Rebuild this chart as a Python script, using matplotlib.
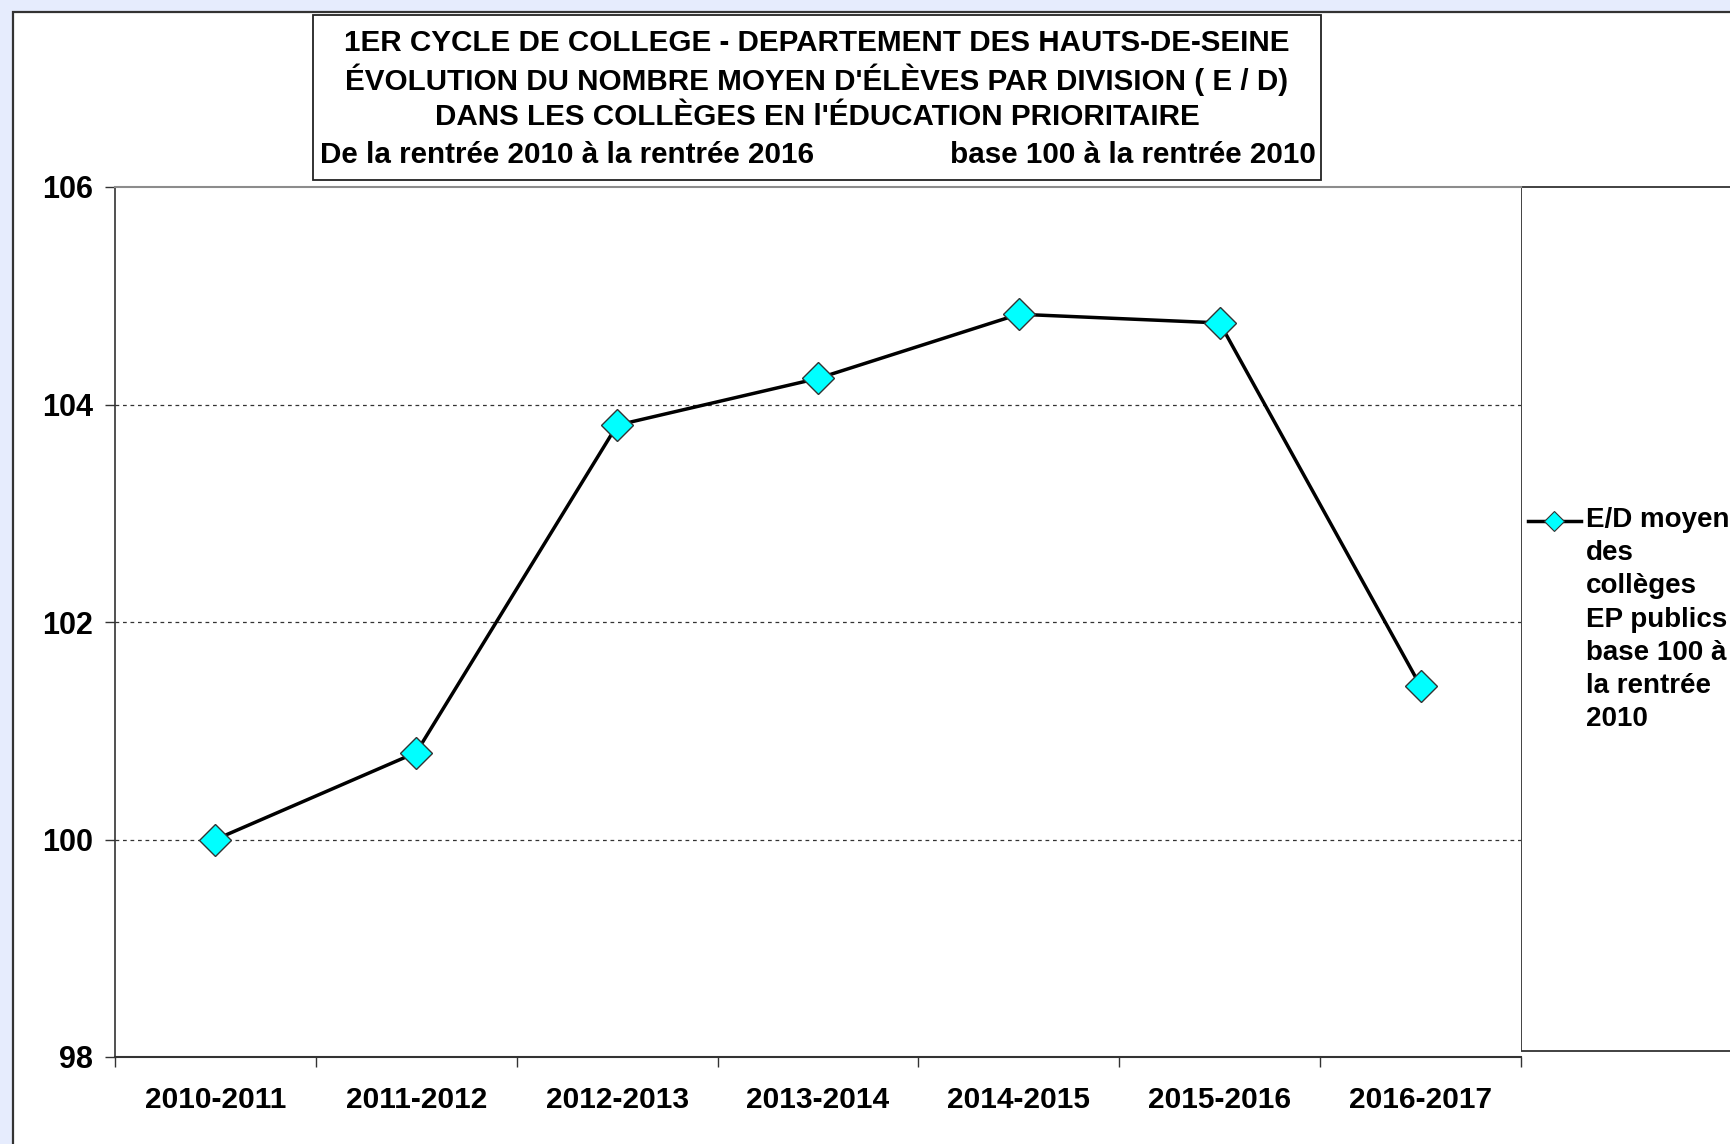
import matplotlib

matplotlib.use("Agg")
import matplotlib.pyplot as plt  # noqa: E402
from matplotlib.patches import Rectangle  # noqa: E402
from matplotlib.lines import Line2D  # noqa: E402

# Data
years = ["2010-2011", "2011-2012", "2012-2013", "2013-2014",
         "2014-2015", "2015-2016", "2016-2017"]
ed_index = [100.0, 100.8, 103.81, 104.24, 104.83, 104.75, 101.41]
y_ticks = [98, 100, 102, 104, 106]

title_lines = [
    "1ER CYCLE DE COLLEGE - DEPARTEMENT DES HAUTS-DE-SEINE",
    "ÉVOLUTION DU NOMBRE MOYEN D'ÉLÈVES PAR DIVISION ( E / D)",
    "DANS LES COLLÈGES EN l'ÉDUCATION PRIORITAIRE",
]
subtitle_left = "De la rentrée 2010 à la rentrée 2016"
subtitle_right = "base 100 à la rentrée 2010"
legend_label = "E/D moyen\ndes\ncollèges\nEP publics\nbase 100 à\nla rentrée\n2010"

W, H = 1731, 1144
plt.rcParams["font.family"] = ["Liberation Sans", "DejaVu Sans"]
plt.rcParams["font.weight"] = "bold"


def fx(px):
    return px / W


def fy(py):
    return 1 - py / H


fig = plt.figure(figsize=(W / 100, H / 100), dpi=100, facecolor="#E6ECFD")

# Outer chart frame
fig.patches.append(Rectangle((fx(13), fy(1200)), fx(1800) - fx(13), fy(12) - fy(1200),
                             transform=fig.transFigure, facecolor="white",
                             edgecolor="#333333", linewidth=1.6, zorder=-2))

ax = fig.add_axes([fx(115), fy(1057), fx(1521) - fx(115), fy(187) - fy(1057)])
ax.set_zorder(2)
x = list(range(len(years)))
ax.plot(x, ed_index, color="black", linewidth=2.5, marker="D", markersize=16,
        markerfacecolor="#00FFFF", markeredgecolor="#333333", markeredgewidth=1.0,
        zorder=3, clip_on=False)

ax.set_xlim(-0.5, len(years) - 0.5)
ax.set_ylim(98, 106)
ax.set_yticks(y_ticks)
ax.set_yticklabels([str(v) for v in y_ticks], fontsize=22, fontweight="bold")
ax.set_xticks(x)
ax.set_xticklabels(years, fontsize=21.5, fontweight="bold")
ax.set_xticks([i - 0.5 for i in range(len(years) + 1)], minor=True)
ax.tick_params(axis="x", which="major", length=0, pad=21)
ax.tick_params(axis="x", which="minor", length=7, width=1, color="#333333", direction="out")
ax.tick_params(axis="y", length=7, width=1, color="#333333", pad=9)

for v in [100, 102, 104]:
    ax.axhline(v, color="#333333", linewidth=0.9, linestyle=(0, (3, 3)), zorder=1)

ax.spines["top"].set_color("#8c8c8c")
ax.spines["top"].set_linewidth(1.5)
ax.spines["right"].set_visible(False)
ax.spines["left"].set_color("#333333")
ax.spines["left"].set_linewidth(1.2)
ax.spines["bottom"].set_color("#333333")
ax.spines["bottom"].set_linewidth(1.5)

# Title box
fig.patches.append(Rectangle((fx(313), fy(180)), fx(1321) - fx(313), fy(15) - fy(180),
                             transform=fig.transFigure, facecolor="white",
                             edgecolor="#222222", linewidth=1.3, zorder=1))
for i, line in enumerate(title_lines):
    fig.text(fx(817), fy(43 + 37 * i), line, ha="center", va="center",
             fontsize=21.3, fontweight="bold")
fig.text(fx(320), fy(155), subtitle_left, ha="left", va="center", fontsize=21.3, fontweight="bold")
fig.text(fx(1316), fy(155), subtitle_right, ha="right", va="center", fontsize=21.3, fontweight="bold")

# Legend box
fig.patches.append(Rectangle((fx(1521), fy(1051)), fx(1800) - fx(1521), fy(187) - fy(1051),
                             transform=fig.transFigure, facecolor="white",
                             edgecolor="#333333", linewidth=1.3, zorder=1))
fig.add_artist(Line2D([fx(1528), fx(1581)], [fy(521), fy(521)], transform=fig.transFigure,
                      color="black", linewidth=2.5))
fig.add_artist(Line2D([fx(1554.5)], [fy(521)], transform=fig.transFigure, marker="D",
                      markersize=10, markerfacecolor="#00FFFF", markeredgecolor="#333333",
                      markeredgewidth=0.8))
fig.text(fx(1586), fy(507), legend_label, ha="left", va="top", fontsize=20,
         fontweight="bold", linespacing=1.36)

plt.savefig("out.png", dpi=100, facecolor=fig.get_facecolor())
